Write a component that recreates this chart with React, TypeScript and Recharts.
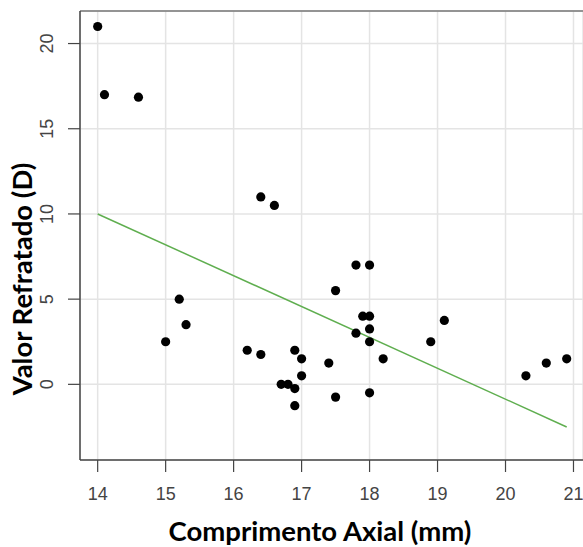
import {
    ScatterChart,
    Scatter,
    XAxis,
    YAxis,
    CartesianGrid,
    ReferenceLine,
    Label,
} from "recharts";

// Axial length (mm) vs refracted value (D), one entry per eye
const axialLength = [
    14.0, 14.1, 14.6, 15.0, 15.2, 15.3, 16.2, 16.4, 16.4, 16.6, 16.7, 16.8,
    16.9, 16.9, 16.9, 17.0, 17.0, 17.4, 17.5, 17.5, 17.8, 17.8, 17.9, 18.0,
    18.0, 18.0, 18.0, 18.0, 18.2, 18.9, 19.1, 20.3, 20.6, 20.9,
];
const refraction = [
    21, 17, 16.85, 2.5, 5, 3.5, 2, 1.75, 11, 10.5, 0, 0,
    2, -0.25, -1.25, 1.5, 0.5, 1.25, -0.75, 5.5, 7, 3, 4, 7,
    4, 3.25, 2.5, -0.5, 1.5, 2.5, 3.75, 0.5, 1.25, 1.5,
];

// fitted regression line, end points
const fitX = [14, 20.9];
const fitY = [10, -2.5];

const xTicks = [14, 15, 16, 17, 18, 19, 20, 21];
const yTicks = [0, 5, 10, 15, 20];
const xDomain = [13.74, 21.14];
const yDomain = [-4.44, 21.91];

const points = axialLength.map((x, i) => ({ x, y: refraction[i] }));
const fitLine = fitX.map((x, i) => ({ x, y: fitY[i] }));

const AXIS_COLOR = "#444";
const TICK_FONT = "'Liberation Sans', Arial, sans-serif";
const TITLE_FONT = "Lato, 'Open Sans', sans-serif";

const XTick = (props: any) => {
    const { x, y, payload } = props;
    return (
        <text
            x={x}
            y={y + 28}
            textAnchor="middle"
            fontFamily={TICK_FONT}
            fontSize={18}
            fill="#444"
        >
            {payload.value}
        </text>
    );
};

const YTick = (props: any) => {
    const { x, y, payload } = props;
    const bx = x - 15;
    return (
        <text
            x={bx}
            y={y}
            transform={`rotate(-90, ${bx}, ${y})`}
            textAnchor="middle"
            fontFamily={TICK_FONT}
            fontSize={18}
            fill="#444"
        >
            {payload.value}
        </text>
    );
};

const Dot = (props: any) => (
    <circle cx={props.cx} cy={props.cy} r={4.6} fill="#000" />
);

const XTitle = () => (
    <text
        x={320}
        y={541}
        textAnchor="middle"
        fontFamily={TITLE_FONT}
        fontWeight="bold"
        fontSize={27.5}
        fill="#000"
    >
        Comprimento Axial (mm)
    </text>
);

const YTitle = () => (
    <text
        x={32}
        y={279}
        transform="rotate(-90, 32, 279)"
        textAnchor="middle"
        fontFamily={TITLE_FONT}
        fontWeight="bold"
        fontSize={27.5}
        fill="#000"
    >
        Valor Refratado (D)
    </text>
);

export default function App() {
    return (
        <div style={{ position: "absolute", left: 0, top: 0, width: 583, height: 547, background: "#fff" }}>
            <ScatterChart
                width={583}
                height={547}
                margin={{ top: 11, right: 0, bottom: 0, left: 0 }}
            >
                <CartesianGrid stroke="#e4e4e4" strokeWidth={1.5} />
                <XAxis
                    type="number"
                    dataKey="x"
                    domain={xDomain}
                    ticks={xTicks}
                    allowDataOverflow
                    height={87}
                    tickSize={12}
                    tickMargin={0}
                    tick={<XTick />}
                    axisLine={{ stroke: AXIS_COLOR, strokeWidth: 1.5 }}
                    tickLine={{ stroke: AXIS_COLOR, strokeWidth: 1.2 }}
                >
                    <Label content={<XTitle />} />
                </XAxis>
                <YAxis
                    type="number"
                    dataKey="y"
                    domain={yDomain}
                    ticks={yTicks}
                    allowDataOverflow
                    width={80}
                    tickSize={12}
                    tickMargin={0}
                    tick={<YTick />}
                    axisLine={{ stroke: AXIS_COLOR, strokeWidth: 1.5 }}
                    tickLine={{ stroke: AXIS_COLOR, strokeWidth: 1.2 }}
                >
                    <Label content={<YTitle />} />
                </YAxis>
                <ReferenceLine y={yDomain[1]} stroke="#777" strokeWidth={1.5} />
                <Scatter
                    data={fitLine}
                    line={{ stroke: "#5fae4f", strokeWidth: 1.5 }}
                    shape={() => <g />}
                    isAnimationActive={false}
                />
                <Scatter data={points} shape={<Dot />} isAnimationActive={false} />
            </ScatterChart>
        </div>
    );
}
